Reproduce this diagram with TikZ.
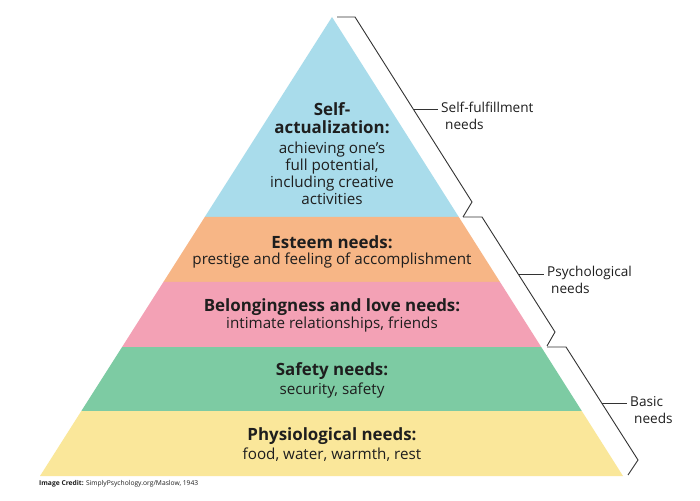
\documentclass[tikz,border=0pt]{standalone}
\usepackage{fontspec}
\setmainfont{Open Sans}
\usetikzlibrary{calc}
\definecolor{lblue}{HTML}{A9DCEB}
\definecolor{lorange}{HTML}{F7B686}
\definecolor{lpink}{HTML}{F3A1B5}
\definecolor{lgreen}{HTML}{7DCBA3}
\definecolor{lyellow}{HTML}{FAE79A}
\definecolor{ink}{HTML}{1E1E1E}
\definecolor{brk}{HTML}{333333}
\tikzset{
  title/.style={font=\fontsize{16.9}{18.5}\selectfont\bfseries, text=ink, inner sep=0pt, align=center},
  body/.style={font=\fontsize{15.2}{17}\selectfont, text=ink, inner sep=0pt, align=center},
  side/.style={font=\fontsize{13.6}{16.5}\selectfont, text=ink, inner sep=0pt, align=left, anchor=west},
  bracket/.style={draw=brk, line width=0.9pt, line join=miter},
}
\begin{document}
\begin{tikzpicture}[x=1pt,y=-1pt]
\useasboundingbox (0,0) rectangle (700,500);
\fill[white] (0,0) rectangle (700,500);
\coordinate (A) at (332,17);
\coordinate (BL) at (40,476);
\coordinate (BR) at (623,476);
\coordinate (L1) at ($(A)!0.4357!(BL)$);
\coordinate (R1) at ($(A)!0.4357!(BR)$);
\coordinate (L2) at ($(A)!0.5773!(BL)$);
\coordinate (R2) at ($(A)!0.5773!(BR)$);
\coordinate (L3) at ($(A)!0.7190!(BL)$);
\coordinate (R3) at ($(A)!0.7190!(BR)$);
\coordinate (L4) at ($(A)!0.8584!(BL)$);
\coordinate (R4) at ($(A)!0.8584!(BR)$);
\fill[lblue] (A) -- (R1) -- (L1) -- cycle;
\fill[lorange] (L1) -- (R1) -- (R2) -- (L2) -- cycle;
\fill[lpink] (L2) -- (R2) -- (R3) -- (L3) -- cycle;
\fill[lgreen] (L3) -- (R3) -- (R4) -- (L4) -- cycle;
\fill[lyellow] (L4) -- (R4) -- (BR) -- (BL) -- cycle;

% texts
\node[title] (t1) at (332,118) {Self-\\actualization:};
\node[body] (b1) at (332,173) {achieving one’s\\full potential,\\including creative\\activities};
\node[title] (t2) at (332,242) {Esteem needs:};
\node[body] (b2) at (332,261) {prestige and feeling of accomplishment};
\node[title] (t3) at (332,307) {Belongingness and love needs:};
\node[body] (b3) at (332,325) {intimate relationships, friends};
\node[title] (t4) at (332,371) {Safety needs:};
\node[body] (b4) at (332,391) {security, safety};
\node[title] (t5) at (332,436) {Physiological needs:};
\node[body] (b5) at (332,455) {food, water, warmth, rest};

% brackets
\coordinate (k1a) at (337,17);
\coordinate (k1b) at (355,17);
\coordinate (k1c) at (472,202);
\coordinate (k1d) at (463,217);
\coordinate (k1t) at ($(k1b)!0.5!(k1c)$);
\draw[bracket] (k1a) -- (k1b) -- (k1c) -- (k1d);
\node[side] (s1) at (441,116) {Self-fulfillment\\\hspace*{4pt}needs};
\draw[bracket] (k1t) -- ($(s1.west |- k1t)+(-3,0)$);

\coordinate (k2a) at (463,217);
\coordinate (k2b) at (482,217);
\coordinate (k2c) at (555,332);
\coordinate (k2d) at (547,346);
\coordinate (k2t) at ($(k2b)!0.5!(k2c)$);
\draw[bracket] (k2a) -- (k2b) -- (k2c) -- (k2d);
\node[side] (s2) at (547,280) {Psychological\\\hspace*{4pt}needs};
\draw[bracket] (k2t) -- ($(s2.west |- k2t)+(-3,0)$);

\coordinate (k3a) at (547,347);
\coordinate (k3b) at (566,347);
\coordinate (k3c) at (638,460);
\coordinate (k3d) at (628,475);
\coordinate (k3t) at ($(k3b)!0.5!(k3c)$);
\draw[bracket] (k3a) -- (k3b) -- (k3c) -- (k3d);
\node[side] (s3) at (630,410) {Basic\\\hspace*{4pt}needs};
\draw[bracket] (k3t) -- ($(s3.west |- k3t)+(-3,0)$);

\node[anchor=west, inner sep=0pt, font=\fontsize{6.7}{7.5}\selectfont, text=ink] (cr) at (39,484) {\textbf{Image Credit:} SimplyPsychology.org/Maslow, 1943};
\end{tikzpicture}
\end{document}
